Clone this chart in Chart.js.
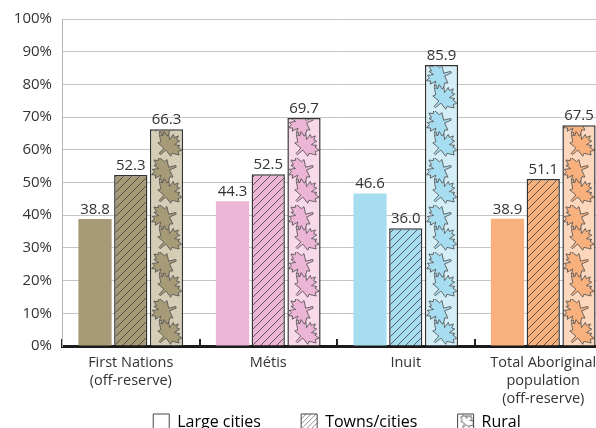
<!DOCTYPE html>
<html lang="en">
<head>
  <meta charset="UTF-8" />
  <title>Aboriginal population by place of residence</title>
  <script src="https://cdn.jsdelivr.net/npm/chart.js"></script>
  <style>
    body {
      margin: 0;
      background: #fff;
    }

    .frame {
      width: 596px;
      height: 428px;
      overflow: hidden;
      position: relative;
    }

    .chart-wrapper {
      width: 612px;
      height: 440px;
    }
  </style>
</head>
<body>
  <div class="frame">
    <div class="chart-wrapper">
      <canvas id="chart"></canvas>
    </div>
  </div>

  <script>
    const categories = [
      ["First Nations", "(off-reserve)"],
      "Métis",
      "Inuit",
      ["Total Aboriginal", "population", "(off-reserve)"]
    ];
    const seriesNames = ["Large cities", "Towns/cities", "Rural"];
    const largeCities = [38.8, 44.3, 46.6, 38.9];
    const townsCities = [52.3, 52.5, 36.0, 51.1];
    const rural = [66.3, 69.7, 85.9, 67.5];

    // colours per group (solid, light background for rural)
    const groupColors = ["#a69b76", "#ecb4d5", "#a7ddf0", "#f8b07d"];
    const lightColors = ["#d6cdb6", "#f7d9e9", "#d4eef8", "#fcd7bd"];

    const FONT = "'Open Sans', sans-serif";
    const INK = "#333";

    function makeCanvas(w, h) {
      const c = document.createElement("canvas");
      c.width = w;
      c.height = h;
      return c;
    }

    function hatchPattern(bg, line, size) {
      const c = makeCanvas(size, size);
      const g = c.getContext("2d");
      g.fillStyle = bg;
      g.fillRect(0, 0, size, size);
      g.strokeStyle = line;
      g.lineWidth = 0.8;
      g.beginPath();
      g.moveTo(-1, size + 1); g.lineTo(size + 1, -1);
      g.moveTo(-1, 1); g.lineTo(1, -1);
      g.moveTo(size - 1, size + 1); g.lineTo(size + 1, size - 1);
      g.stroke();
      return g.createPattern(c, "repeat");
    }

    // maple leaf outline, pointing up, unit size
    const leafPts = [
      [0, -1], [0.12, -0.72], [0.32, -0.82], [0.24, -0.38], [0.55, -0.62], [0.52, -0.44],
      [0.9, -0.5], [0.76, -0.24], [0.98, -0.12], [0.55, 0.16], [0.64, 0.36], [0.1, 0.3],
      [0.06, 0.8], [-0.06, 0.8], [-0.1, 0.3], [-0.64, 0.36], [-0.55, 0.16], [-0.98, -0.12],
      [-0.76, -0.24], [-0.9, -0.5], [-0.52, -0.44], [-0.55, -0.62], [-0.24, -0.38],
      [-0.32, -0.82], [-0.12, -0.72]
    ];

    function drawLeaf(g, cx, cy, r, rot, fill, stroke) {
      g.save();
      g.translate(cx, cy);
      g.rotate(rot);
      g.beginPath();
      leafPts.forEach(([x, y], i) => {
        if (i === 0) g.moveTo(x * r, y * r);
        else g.lineTo(x * r, y * r);
      });
      g.closePath();
      g.fillStyle = fill;
      g.fill();
      g.strokeStyle = stroke;
      g.lineWidth = 0.8;
      g.stroke();
      g.restore();
    }

    function leafPattern(bg, leaf) {
      const c = makeCanvas(33, 47);
      const g = c.getContext("2d");
      g.fillStyle = bg;
      g.fillRect(0, 0, 33, 47);
      drawLeaf(g, 15, 12, 14.5, -1.9, leaf, "#555");
      drawLeaf(g, 18, 35, 14.5, 0.8, leaf, "#555");
      return g.createPattern(c, "repeat");
    }

    function legendLeafPattern() {
      const c = makeCanvas(16, 16);
      const g = c.getContext("2d");
      g.fillStyle = "#fff";
      g.fillRect(0, 0, 16, 16);
      drawLeaf(g, 9, 8, 8, 0.6, "#fff", "#666");
      return g.createPattern(c, "repeat");
    }

    const hatchFills = groupColors.map(c => hatchPattern(c, "#3a3a3a", 8));
    const ruralFills = groupColors.map((c, i) => leafPattern(lightColors[i], c));
    const legendFills = ["#fff", hatchPattern("#fff", "#777", 5), legendLeafPattern()];

    // align the bar patterns with each bar
    const patternAlignPlugin = {
      id: "patternAlign",
      beforeDatasetsDraw(chart) {
        chart.data.datasets.forEach((ds, di) => {
          chart.getDatasetMeta(di).data.forEach(el => {
            const bg = el.options.backgroundColor;
            if (bg instanceof CanvasPattern) {
              bg.setTransform(new DOMMatrix().translate(Math.round(el.x - el.width / 2), Math.round(el.base)));
            }
          });
        });
      },
      beforeDraw(chart) {
        const boxes = chart.legend && chart.legend.legendHitBoxes;
        if (!boxes) return;
        boxes.forEach((hb, i) => {
          const bg = legendFills[i];
          if (bg instanceof CanvasPattern) {
            bg.setTransform(new DOMMatrix().translate(hb.left, hb.top));
          }
        });
      }
    };

    // value labels above bars
    const valueLabelPlugin = {
      id: "valueLabels",
      afterDatasetsDraw(chart) {
        const ctx = chart.ctx;
        ctx.save();
        ctx.font = "15px " + FONT;
        ctx.fillStyle = INK;
        ctx.textAlign = "center";
        ctx.textBaseline = "bottom";
        chart.data.datasets.forEach((ds, di) => {
          chart.getDatasetMeta(di).data.forEach((el, i) => {
            ctx.fillText(ds.data[i].toFixed(1), el.x, el.y - 2);
          });
        });
        ctx.restore();
      }
    };

    const ctx = document.getElementById("chart").getContext("2d");

    new Chart(ctx, {
      type: "bar",
      data: {
        labels: categories,
        datasets: [
          {
            label: seriesNames[0],
            data: largeCities,
            backgroundColor: groupColors,
            borderWidth: 0
          },
          {
            label: seriesNames[1],
            data: townsCities,
            backgroundColor: hatchFills,
            borderColor: "#333",
            borderWidth: 1.5
          },
          {
            label: seriesNames[2],
            data: rural,
            backgroundColor: ruralFills,
            borderColor: "#333",
            borderWidth: 1.5
          }
        ]
      },
      options: {
        responsive: true,
        maintainAspectRatio: false,
        animation: false,
        layout: {
          padding: { top: 10, left: 0, right: 0, bottom: 0 }
        },
        datasets: {
          bar: {
            categoryPercentage: 0.78,
            barPercentage: 0.93
          }
        },
        plugins: {
          tooltip: { enabled: false },
          legend: {
            position: "bottom",
            fullSize: false,
            labels: {
              boxWidth: 16,
              boxHeight: 16,
              padding: 7,
              color: INK,
              font: { family: FONT, size: 16 },
              // trailing spaces widen the gap between legend items
              generateLabels: () => seriesNames.map((name, i) => ({
                text: i < seriesNames.length - 1 ? name + "        " : name,
                fillStyle: legendFills[i],
                strokeStyle: "#444",
                lineWidth: 1,
                hidden: false,
                datasetIndex: i
              }))
            }
          }
        },
        scales: {
          x: {
            grid: {
              offset: true,
              drawOnChartArea: false,
              drawTicks: true,
              tickLength: -7,
              color: "#222",
              lineWidth: 2
            },
            border: { color: "#1a1a1a", width: 3 },
            ticks: {
              padding: 15,
              color: INK,
              font: { family: FONT, size: 14.5, lineHeight: 1.25 },
              maxRotation: 0,
              autoSkip: false
            },
            afterFit: (scale) => { scale.height = 61; }
          },
          y: {
            min: 0,
            max: 100,
            ticks: {
              stepSize: 10,
              padding: 10,
              color: INK,
              font: { family: FONT, size: 15 },
              callback: (v) => v + "%"
            },
            grid: {
              color: "#c4c4c4",
              drawTicks: false
            },
            border: { color: "#b5b5b5", width: 1 },
            afterFit: (scale) => { scale.width = 62; }
          }
        }
      },
      plugins: [patternAlignPlugin, valueLabelPlugin]
    });
  </script>
</body>
</html>
